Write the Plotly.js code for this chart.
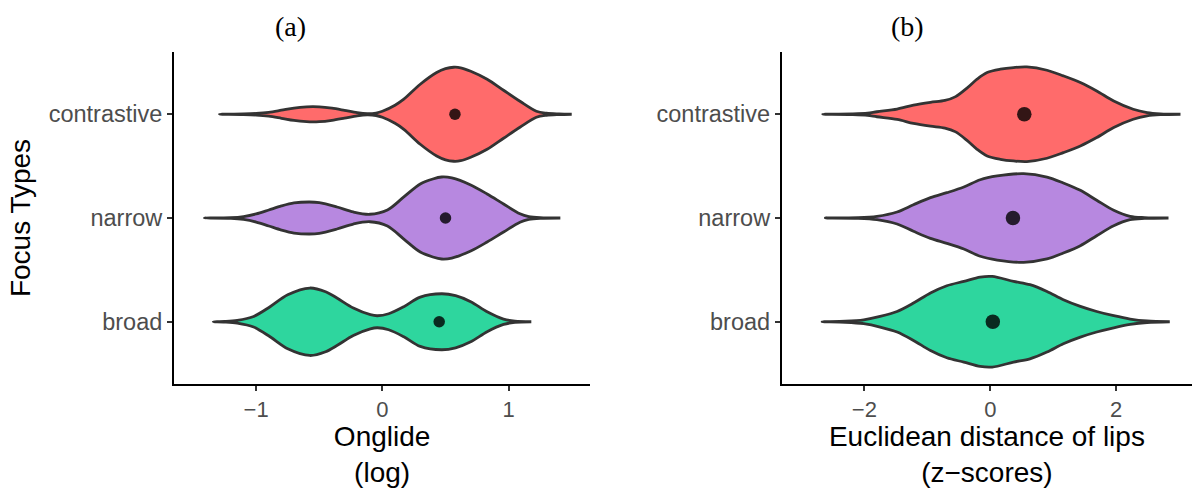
<!DOCTYPE html>
<html><head><meta charset="utf-8">
<script src="https://cdn.plot.ly/plotly-3.0.1.min.js"></script>
<style>html,body{margin:0;padding:0;background:#fff}#chart{width:1198px;height:488px}</style>
</head><body><div id="chart"></div>
<script>
// Categories (bottom to top)
const categories = ['broad', 'narrow', 'contrastive'];
const catColors = ['#2ED69E', '#B788E0', '#FF6B6B'];

// Panel (a): Onglide (log) — violin density profiles (x value, half-width in category units)
const onglideBroadX = [-1.34, -1.25, -1.15, -1.02, -0.89, -0.75, -0.575, -0.45, -0.36, -0.23, -0.095, -0.04, 0.05, 0.17, 0.30, 0.47, 0.58, 0.70, 0.83, 0.96, 1.05, 1.18];
const onglideBroadW = [0, 0.003, 0.013, 0.051, 0.145, 0.260, 0.325, 0.289, 0.229, 0.132, 0.068, 0.058, 0.077, 0.145, 0.238, 0.270, 0.251, 0.193, 0.096, 0.026, 0.005, 0];
const onglideNarrowX = [-1.41, -1.2, -1.1, -1.0, -0.9, -0.8, -0.7, -0.58, -0.5, -0.36, -0.23, -0.1, 0.04, 0.17, 0.30, 0.40, 0.47, 0.55, 0.70, 0.83, 0.96, 1.09, 1.16, 1.25, 1.41];
const onglideNarrowW = [0, 0.003, 0.014, 0.039, 0.077, 0.116, 0.145, 0.154, 0.148, 0.106, 0.058, 0.036, 0.077, 0.203, 0.328, 0.376, 0.395, 0.386, 0.318, 0.231, 0.135, 0.041, 0.014, 0.003, 0];
const onglideContrastiveX = [-1.29, -1.1, -1.0, -0.9, -0.8, -0.7, -0.6, -0.55, -0.5, -0.4, -0.3, -0.2, -0.12, -0.05, 0.0, 0.1, 0.17, 0.30, 0.43, 0.50, 0.565, 0.62, 0.70, 0.83, 0.96, 1.09, 1.22, 1.30, 1.40, 1.50];
const onglideContrastiveW = [0, 0.003, 0.008, 0.019, 0.039, 0.060, 0.072, 0.074, 0.072, 0.058, 0.037, 0.015, 0.006, 0.012, 0.029, 0.087, 0.145, 0.289, 0.402, 0.439, 0.453, 0.448, 0.415, 0.338, 0.231, 0.125, 0.029, 0.010, 0.003, 0];
const onglideMeans = [0.45, 0.50, 0.575];

// Panel (b): Euclidean distance of lips (z-scores)
const lipsBroadX = [-2.67, -2.3, -2.01, -1.75, -1.48, -1.22, -0.95, -0.69, -0.42, -0.16, 0.03, 0.37, 0.63, 0.90, 1.16, 1.43, 1.69, 1.96, 2.22, 2.49, 2.85];
const lipsBroadW = [0, 0.005, 0.019, 0.051, 0.099, 0.180, 0.277, 0.347, 0.389, 0.431, 0.437, 0.389, 0.357, 0.292, 0.212, 0.148, 0.099, 0.058, 0.026, 0.007, 0];
const lipsNarrowX = [-2.62, -2.1, -1.80, -1.48, -1.22, -0.95, -0.69, -0.42, -0.16, 0.11, 0.53, 0.90, 1.16, 1.43, 1.69, 1.96, 2.22, 2.45, 2.83];
const lipsNarrowW = [0, 0.003, 0.016, 0.058, 0.128, 0.196, 0.244, 0.299, 0.369, 0.405, 0.427, 0.395, 0.338, 0.267, 0.171, 0.074, 0.016, 0.004, 0];
const lipsContrastiveX = [-2.66, -2.2, -1.95, -1.80, -1.48, -1.22, -0.95, -0.72, -0.55, -0.37, -0.21, -0.05, 0.16, 0.37, 0.58, 0.90, 1.16, 1.43, 1.69, 1.96, 2.27, 2.49, 2.70, 3.02];
const lipsContrastiveW = [0, 0.003, 0.010, 0.024, 0.050, 0.088, 0.115, 0.133, 0.170, 0.252, 0.338, 0.402, 0.434, 0.450, 0.456, 0.424, 0.370, 0.306, 0.225, 0.128, 0.048, 0.016, 0.004, 0];
const lipsMeans = [0.04, 0.36, 0.54];

const xTicksA = [-1, 0, 1];
const xTicksB = [-2, 0, 2];

const FONT = 'Liberation Sans, Arial, Helvetica, sans-serif';

function violin(xs, ws, catIndex, color, xa, ya) {
  const c = catIndex + 1;
  const px = xs.concat(xs.slice().reverse());
  const top = xs.map((x, i) => c + ws[i]);
  const bot = xs.map((x, i) => c - ws[i]).reverse();
  return {
    type: 'scatter', mode: 'lines', x: px, y: top.concat(bot),
    fill: 'toself', fillcolor: color,
    line: {color: '#333333', width: 2.8, shape: 'spline', smoothing: 0.9},
    xaxis: xa, yaxis: ya, hoverinfo: 'skip', showlegend: false
  };
}

const panelA = [[onglideBroadX, onglideBroadW], [onglideNarrowX, onglideNarrowW], [onglideContrastiveX, onglideContrastiveW]];
const panelB = [[lipsBroadX, lipsBroadW], [lipsNarrowX, lipsNarrowW], [lipsContrastiveX, lipsContrastiveW]];

const traces = [];
panelA.forEach((p, i) => traces.push(violin(p[0], p[1], i, catColors[i], 'x', 'y')));
panelB.forEach((p, i) => traces.push(violin(p[0], p[1], i, catColors[i], 'x2', 'y2')));
traces.push({type: 'scatter', mode: 'markers', x: onglideMeans, y: categories.map((c, i) => i + 1),
  marker: {size: 11.5, color: 'rgba(0,0,0,0.8)'}, xaxis: 'x', yaxis: 'y', showlegend: false});
traces.push({type: 'scatter', mode: 'markers', x: lipsMeans, y: categories.map((c, i) => i + 1),
  marker: {size: 14.5, color: 'rgba(0,0,0,0.8)'}, xaxis: 'x2', yaxis: 'y2', showlegend: false});

const yTickFont = {family: FONT, size: 23.5, color: '#4D4D4D'};
const xTickFont = {family: FONT, size: 22, color: '#4D4D4D'};
const titleFont = {family: FONT, size: 28, color: '#000000'};
const axisCommon = {showline: true, linecolor: '#000000', linewidth: 2, ticks: 'outside', ticklen: 5,
  tickwidth: 2, tickcolor: '#333333', showgrid: false, zeroline: false};

const layout = {
  width: 1198, height: 488,
  margin: {l: 173.5, r: 6, t: 52, b: 104},
  paper_bgcolor: '#ffffff', plot_bgcolor: '#ffffff',
  font: {family: FONT},
  xaxis: Object.assign({}, axisCommon, {domain: [0, 0.4089], range: [-1.651, 1.647], tickvals: xTicksA,
    tickfont: xTickFont, anchor: 'y', title: {text: 'Onglide<br>(log)', font: titleFont, standoff: 4}}),
  yaxis: Object.assign({}, axisCommon, {domain: [0, 1], range: [0.4, 3.6], tickvals: [1, 2, 3], ticktext: categories,
    tickfont: yTickFont, anchor: 'x', title: {text: 'Focus Types', font: titleFont, standoff: 10}}),
  xaxis2: Object.assign({}, axisCommon, {domain: [0.5971, 1], range: [-3.31, 3.203], tickvals: xTicksB,
    tickfont: xTickFont, anchor: 'y2', title: {text: 'Euclidean distance of lips<br>(z\u2212scores)', font: titleFont, standoff: 4}}),
  yaxis2: Object.assign({}, axisCommon, {domain: [0, 1], range: [0.4, 3.6], tickvals: [1, 2, 3], ticktext: categories,
    tickfont: yTickFont, anchor: 'x2'}),
  annotations: [
    {text: '(a)', xref: 'paper', yref: 'paper', x: 0.1144, y: 1.078, xanchor: 'center', yanchor: 'middle',
      showarrow: false, font: {family: 'Liberation Serif, Times New Roman, serif', size: 28, color: '#000'}},
    {text: '(b)', xref: 'paper', yref: 'paper', x: 0.7202, y: 1.078, xanchor: 'center', yanchor: 'middle',
      showarrow: false, font: {family: 'Liberation Serif, Times New Roman, serif', size: 28, color: '#000'}}
  ]
};

Plotly.newPlot('chart', traces, layout, {staticPlot: true, displayModeBar: false});
</script>
</body></html>
